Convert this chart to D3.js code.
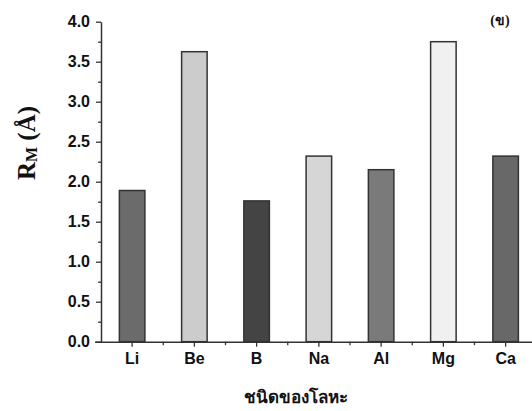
<!DOCTYPE html>
<html>
<head>
<meta charset="utf-8">
<script src="https://cdn.jsdelivr.net/npm/d3@7"></script>
<style>
  body{margin:0;background:#fff;}
  svg{display:block;}
  .tick text{font-family:Arial,"Liberation Sans",sans-serif;font-weight:bold;font-size:16px;fill:#111;}
</style>
</head>
<body>
<div id="chart"></div>
<script>
const metals=["Li","Be","B","Na","Al","Mg","Ca"];
const radius=[1.89,3.625,1.76,2.32,2.15,3.75,2.32];
const barColors=["#6b6b6b","#cccccc","#444444","#d6d6d6","#7a7a7a","#f0f0f0","#686868"];
const yTicks=[0,0.5,1.0,1.5,2.0,2.5,3.0,3.5,4.0];
const yMinorTicks=[0.25,0.75,1.25,1.75,2.25,2.75,3.25,3.75];

const chartW=532, chartH=411;
const plotLeft=101, plotRight=536.75, plotTop=21.7, plotBottom=341.7;
const axisColor="#333";

const svg=d3.select("#chart").append("svg")
  .attr("width",chartW).attr("height",chartH);

const x=d3.scaleBand().domain(metals).range([plotLeft,plotRight])
  .paddingInner(0.59).paddingOuter(0.295);
const y=d3.scaleLinear().domain([0,4]).range([plotBottom,plotTop]);

// bars
svg.append("g").selectAll("rect")
  .data(metals)
  .enter()
  .append("rect")
  .attr("x",(d)=>x(d))
  .attr("y",(d,i)=>y(radius[i]))
  .attr("width",x.bandwidth())
  .attr("height",(d,i)=>plotBottom-y(radius[i]))
  .style("fill",(d,i)=>barColors[i])
  .style("stroke","#333")
  .style("stroke-width",1.5);

// y axis minor ticks
svg.append("g")
  .attr("transform","translate("+plotLeft+",0)")
  .call(d3.axisLeft(y).tickValues(yMinorTicks).tickSize(3).tickFormat(""))
  .call(g=>g.select(".domain").remove())
  .call(g=>g.selectAll("line").attr("stroke",axisColor).attr("stroke-width",1.3));

// y axis
const yAxis=svg.append("g")
  .attr("transform","translate("+plotLeft+",0)")
  .call(d3.axisLeft(y).tickValues(yTicks).tickSize(5).tickSizeOuter(0).tickPadding(6).tickFormat(d3.format(".1f")));
yAxis.select(".domain").attr("stroke",axisColor).attr("stroke-width",1.5);
yAxis.selectAll("line").attr("stroke",axisColor).attr("stroke-width",1.3);

// x axis minor ticks at the category boundaries
const xMinor=metals.map((d)=>x(d)+x.bandwidth()/2+x.step()/2);
svg.append("g").selectAll("line")
  .data(xMinor)
  .enter()
  .append("line")
  .attr("x1",(d)=>d).attr("x2",(d)=>d)
  .attr("y1",plotBottom).attr("y2",plotBottom+3.5)
  .attr("stroke",axisColor).attr("stroke-width",1.3);

// x axis
const xAxis=svg.append("g")
  .attr("transform","translate(0,"+plotBottom+")")
  .call(d3.axisBottom(x).tickSize(5).tickSizeOuter(0).tickPadding(6));
xAxis.select(".domain").attr("stroke",axisColor).attr("stroke-width",1.5)
  .attr("d","M"+(plotLeft-6)+",0.5H"+plotRight);
xAxis.selectAll("line").attr("stroke",axisColor).attr("stroke-width",1.3);

// y title
const yTitle=svg.append("text")
  .attr("transform","translate(35,143) rotate(-90)")
  .attr("text-anchor","middle")
  .style("font-family","'Times New Roman','Liberation Serif',serif")
  .style("font-weight","bold")
  .style("font-size","25px")
  .style("fill","#111");
yTitle.append("tspan").text("R");
yTitle.append("tspan").attr("font-size","16px").attr("dy","2").text("M");
yTitle.append("tspan").attr("dy","-2").text(" (Å)");

// x title
svg.append("text")
  .attr("x",296).attr("y",403)
  .attr("text-anchor","middle")
  .style("font-family","'Times New Roman','Liberation Serif',serif")
  .style("font-weight","bold")
  .style("font-size","17px")
  .style("fill","#111")
  .text("ชนิดของโลหะ");

// panel label
svg.append("text")
  .attr("x",500).attr("y",25)
  .attr("text-anchor","middle")
  .style("font-family","'Times New Roman','Liberation Serif',serif")
  .style("font-weight","bold")
  .style("font-size","14px")
  .style("fill","#111")
  .text("(ข)");
</script>
</body>
</html>
